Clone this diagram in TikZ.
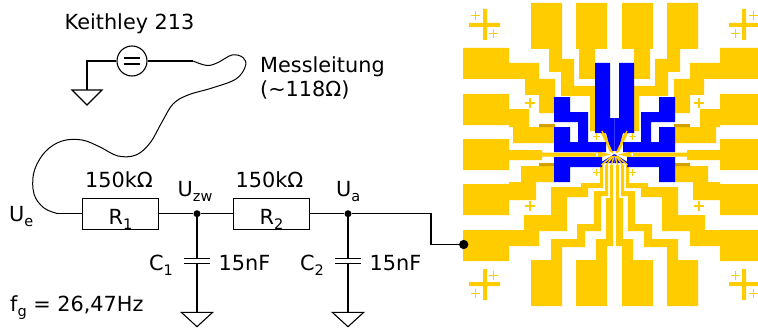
\documentclass[tikz,border=0pt]{standalone}
\usepackage{fontspec}
\setmainfont{DejaVu Sans}
\definecolor{chipgold}{RGB}{255,204,0}
\definecolor{chipblue}{RGB}{0,0,255}
\definecolor{darkgold}{RGB}{212,160,0}
% lowered index in text labels
\newcommand\ix[1]{\raisebox{-5pt}{\fontsize{14.5}{14.5}\selectfont #1}}
% alignment plus: x, y, half length, line width
\newcommand\aplus[4]{\draw[chipgold,line width=#4pt,shift={(#1,#2)}] (-#3,0)--(#3,0) (0,-#3)--(0,#3);}
% left half of the chip layout (mirrored for the right half)
\newcommand\chipleft{%
  % bond pads
  \fill[chipgold] (531,3) rectangle (562,49) (576,3) rectangle (607,49)
    (463,48) rectangle (509,79) (463,94) rectangle (509,125) (463,139) rectangle (509,170)
    (463,184) rectangle (509,215) (463,230) rectangle (509,261)
    (531,260) rectangle (562,306) (576,260) rectangle (607,306);
  % top pad traces
  \fill[chipgold] (549,49) rectangle (562,72) (549,59) rectangle (574,72)
    (561,72) rectangle (574,96) (561,86) rectangle (595,96)
    (590,86) rectangle (595,131) (590,127) rectangle (604,131)
    (600,131) -- (604,131) -- (613,152) -- (610,152) -- cycle
    (579,49) rectangle (595,79);
  % side pad traces
  \fill[chipgold] (509,63) rectangle (539,79) (525,79) rectangle (555,95) (539,95) rectangle (555,113)
    (509,109) rectangle (529,127) (513,127) rectangle (555,143)
    (509,150) rectangle (542,160) (542,152.5) rectangle (598,156.5)
    (596,151) -- (611,154.5) -- (596,158) -- cycle
    (509,182) rectangle (536,200) (521,166) rectangle (555,182)
    (509,230) rectangle (539,246) (524,215) rectangle (567,231) (551,187) rectangle (567,215)
    (551,187) rectangle (588,197) (581,183) rectangle (603,188) (600,165) rectangle (603,188);
  % bottom pad traces
  \fill[chipgold] (551,239) rectangle (562,260) (551,239) rectangle (585,247) (577,224) rectangle (585,247)
    (577,224) rectangle (601,231) (594,191) rectangle (601,231) (594,191) rectangle (608,196)
    (605,165) rectangle (608,196)
    (596,239) rectangle (607,260) (596,239) rectangle (613,246) (606,198) rectangle (613,246)
    (610,165) rectangle (613,198);
  \fill[darkgold] (539,124) rectangle (555,127) (539,163) rectangle (555,166);
  % upper metal layer
  \fill[chipblue] (595,63) rectangle (610,133) (595,118) rectangle (614.5,133)
    (606,133) -- (614.5,133) -- (614.5,151) -- (611,151) -- cycle
    (554,97) rectangle (570,113) (554,112) rectangle (588,122) (578,112) rectangle (588,143)
    (554,127) rectangle (570,143) (554,142) rectangle (606,152)
    (554,157) rectangle (602,167) (554,157) rectangle (570,182)
    (600,163) -- (614.5,163) -- (614.5,154) -- cycle;
  % fan-out lines to the centre
  \draw[chipgold,line width=1.4pt] (601.5,165) -- (612,156) (606.5,165) -- (613,156)
    (611.5,165) -- (614,156) (602,131) -- (612.5,153);
  % alignment marks
  \fill[chipgold] (483,9) rectangle (487,40) (469,23) rectangle (500,27)
    (483,269) rectangle (487,300) (469,282) rectangle (500,286);
  \aplus{475.7}{15.3}{4.7}{1}\aplus{493.7}{33.7}{4.7}{1}
  \aplus{493.7}{275.3}{4.7}{1}\aplus{475.7}{293.7}{4.7}{1}
  \aplus{529.7}{103.3}{5}{2}\aplus{529.7}{205.7}{5}{2}
  \aplus{596.5}{136.5}{3.5}{1}\aplus{596.5}{172.5}{3.5}{1}
}
\begin{document}
\begin{tikzpicture}[x=1pt,y=-1pt,
  wire/.style={line width=1.1pt,draw=black},
  lbl/.style={inner sep=0,anchor=base west,font=\fontsize{20.8}{25}\selectfont},
  resbox/.style={draw=black,line width=1.1pt,minimum width=76pt,minimum height=30.7pt,inner sep=0},
  jdot/.style={circle,fill=black,inner sep=0,minimum size=7pt},
  paddot/.style={circle,fill=black,inner sep=0,minimum size=9.3pt}]
\useasboundingbox (0,0) rectangle (758,329);
\fill[white] (0,0) rectangle (758,329);

% chip layout
\chipleft
\begin{scope}[shift={(1229,0)},xscale=-1]
  \chipleft
\end{scope}

% measuring instrument and cable
\node[circle,draw=black,line width=1.1pt,minimum size=30pt,inner sep=0] (src) at (132,61) {};
\draw[line width=1.1pt] (124,58) -- (140,58) (124,64) -- (140,64);
\coordinate (gndk) at (87,90);
\draw[wire] (src.west) -| (gndk);
\draw[wire] (gndk) ++(-15,0) -- ++(30,0) -- (87,105) -- cycle;
\coordinate (cs) at (193,61);
\coordinate (ce) at (58,213.7);
\draw[wire] (src.east) -- (cs);
\draw[line width=1pt] (cs) plot[smooth,tension=0.6] coordinates {(193,61) (207,65.5) (218,62.5) (232,55) (243,57.5) (245.5,66) (236,79) (212,88) (188,95) (173,104) (162,122) (150,143) (136,155) (118,156) (100,147) (82,140) (62,141) (45,152) (34,172) (34,194) (44,208) (58,213.7)};

% RC network
\node[resbox] (R1) at (120.3,213.7) {};
\node[jdot] (zw) at (197,213.7) {};
\node[resbox] (R2) at (271.7,213.7) {};
\node[jdot] (ua) at (348,213.7) {};
\coordinate (bend) at (431,213.7);
\node[paddot] (pad) at (463.7,244.5) {};
\draw[wire] (ce) -- (R1.west);
\draw[wire] (R1.east) -- (zw) -- (R2.west);
\draw[wire] (R2.east) -- (ua) -- (bend) |- (pad);

% capacitors and grounds
\foreach \cx/\nm in {197/c1,348/c2}{
  \coordinate (\nm top) at (\cx,258.3);
  \coordinate (\nm bot) at (\cx,263.3);
  \coordinate (\nm gnd) at (\cx,312.3);
}
\draw[wire] (zw) -- (c1top);
\draw[wire] (ua) -- (c2top);
\draw[wire] (c1bot) -- (c1gnd);
\draw[wire] (c2bot) -- (c2gnd);
\draw[line width=1.4pt] (184,258.3) -- (210,258.3) (184,263.3) -- (210,263.3)
  (335,258.3) -- (361,258.3) (335,263.3) -- (361,263.3);
\draw[wire] (c1gnd) ++(-15.7,0) -- ++(31.4,0) -- (197,326.7) -- cycle;
\draw[wire] (c2gnd) ++(-15.7,0) -- ++(31.4,0) -- (348,326.7) -- cycle;

% labels
\node[lbl] (tk) at (64.5,29.3) {Keithley 213};
\node[lbl] (tm) at (260,72.7) {Messleitung};
\node[lbl] (tr) at (260,96.7) {(\char"223C 118\char"03A9)};
\node[lbl] (t1) at (85,187.3) {150k\char"03A9};
\node[lbl] (t2) at (235.5,187.3) {150k\char"03A9};
\node[lbl] (r1) at (108.5,224) {R\ix{1}};
\node[lbl] (r2) at (259.5,224) {R\ix{2}};
\node[lbl] (uzw) at (177.5,196.7) {U\ix{zw}};
\node[lbl] (ual) at (336,196.7) {U\ix{a}};
\node[lbl] (uel) at (9,221.7) {U\ix{e}};
\node[lbl] (c1l) at (149,270.7) {C\ix{1}};
\node[lbl] (c1v) at (218.5,270.7) {15nF};
\node[lbl] (c2l) at (300,270.7) {C\ix{2}};
\node[lbl] (c2v) at (369.5,270.7) {15nF};
\node[lbl] (fg) at (10,311.7) {f\ix{g} = 26,47Hz};
\end{tikzpicture}
\end{document}
